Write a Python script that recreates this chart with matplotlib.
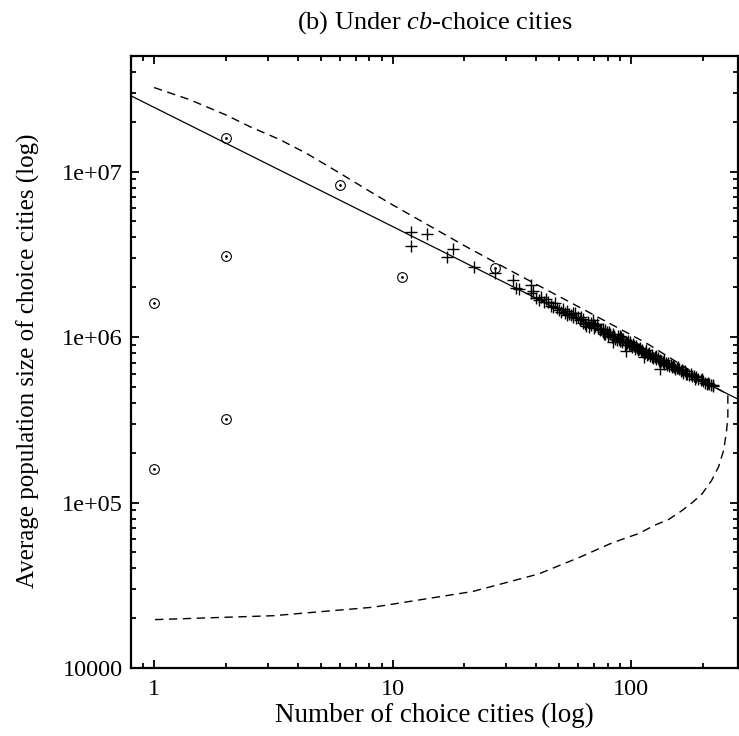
import matplotlib
matplotlib.use("Agg")
import matplotlib.pyplot as plt
from matplotlib.ticker import LogLocator, NullFormatter

plt.rcParams['font.family'] = ['Liberation Serif', 'DejaVu Serif']
plt.rcParams['mathtext.fontset'] = 'custom'
plt.rcParams['mathtext.rm'] = 'Liberation Serif'
plt.rcParams['mathtext.it'] = 'Liberation Serif:italic'

# cities with few choice cities (circles)
circle_x = [1, 1, 2, 2, 2, 6, 11, 27]
circle_y = [1.6e6, 1.6e5, 1.6e7, 3.1e6, 3.2e5, 8.3e6, 2.3e6, 2.6e6]

# remaining cities (crosses)
cross_x = [12, 12, 14, 17, 18, 22, 27, 32, 33, 34, 38, 38, 39, 40, 41, 44, 45, 46,
           47, 48, 50, 51, 53, 54, 55, 56, 57, 58, 59, 61, 62, 63, 64, 66, 67, 68,
           69, 70, 71, 72, 74, 75, 76, 77, 78, 79, 80, 82, 83, 84, 85, 86, 88, 89,
           90, 91, 92, 93, 94, 95, 96, 97, 98, 100, 101, 103, 104, 106, 107, 108,
           110, 111, 113, 115, 117, 118, 120, 122, 124, 126, 128, 130, 131, 133,
           134, 136, 138, 140, 143, 145, 148, 150, 153, 156, 159, 162, 165, 169,
           172, 176, 180, 184, 188, 192, 196, 200, 204, 208, 212, 216, 220,
           42, 43, 49, 52, 54, 57, 60, 63, 65, 68, 70, 73, 76, 78, 81, 84, 87,
           90, 92, 95, 99, 102, 105, 109, 112, 116, 119, 123, 127, 132, 137, 142,
           147, 152, 158, 164, 170, 178, 186, 198, 210, 222]
cross_y = [4.3e6, 3.55e6, 4.2e6, 3.05e6, 3.4e6, 2.65e6, 2.45e6, 2.2e6, 1.98e6,
           1.95e6, 2.05e6, 1.85e6, 1.9e6, 1.72e6, 1.68e6, 1.7e6, 1.62e6, 1.55e6,
           1.52e6, 1.6e6, 1.45e6, 1.42e6, 1.40e6, 1.44e6, 1.38e6, 1.36e6, 1.33e6,
           1.39e6, 1.30e6, 1.26e6, 1.33e6, 1.22e6, 1.20e6, 1.24e6, 1.15e6, 1.18e6,
           1.26e6, 1.13e6, 1.16e6, 1.20e6, 1.10e6, 1.12e6, 1.07e6, 1.05e6, 1.10e6,
           1.08e6, 1.02e6, 1.04e6, 1.0e6, 0.93e6, 1.01e6, 0.98e6, 1.02e6, 0.97e6,
           0.95e6, 1.0e6, 0.94e6, 0.97e6, 0.90e6, 0.82e6, 0.92e6, 0.95e6, 0.89e6,
           0.90e6, 0.87e6, 0.88e6, 0.85e6, 0.86e6, 0.83e6, 0.85e6, 0.82e6, 0.84e6,
           0.76e6, 0.80e6, 0.78e6, 0.79e6, 0.77e6, 0.78e6, 0.75e6, 0.76e6, 0.74e6,
           0.75e6, 0.72e6, 0.64e6, 0.72e6, 0.71e6, 0.69e6, 0.70e6, 0.70e6, 0.67e6,
           0.66e6, 0.67e6, 0.64e6, 0.65e6, 0.64e6, 0.62e6, 0.61e6, 0.62e6, 0.60e6,
           0.59e6, 0.58e6, 0.58e6, 0.57e6, 0.56e6, 0.55e6, 0.54e6, 0.53e6, 0.52e6,
           0.52e6, 0.51e6, 0.505e6,
           1.75e6, 1.62e6, 1.50e6, 1.47e6, 1.35e6, 1.40e6, 1.33e6, 1.28e6,
           1.17e6, 1.22e6, 1.19e6, 1.14e6, 1.12e6, 1.04e6, 1.08e6, 1.04e6,
           0.96e6, 1.01e6, 0.98e6, 0.93e6, 0.94e6, 0.91e6, 0.88e6, 0.86e6,
           0.81e6, 0.83e6, 0.80e6, 0.76e6, 0.77e6, 0.73e6, 0.73e6, 0.68e6,
           0.68e6, 0.66e6, 0.66e6, 0.63e6, 0.60e6, 0.60e6, 0.56e6, 0.56e6,
           0.53e6, 0.51e6]

# fitted power law (end points)
fit_x = [0.8, 280]
fit_y = [2.87e7, 4.23e5]

# confidence band, upper branch then lower branch
band_x = [1, 1.41, 2, 2.52, 3.37, 4.35, 6, 8.27, 10, 20, 30, 60, 116, 180, 230,
          255, 255, 252, 245, 233, 218, 199, 181, 163, 144, 126, 108, 92, 81,
          61, 41, 21.7, 8.3, 3.16, 1]
band_y = [3.22e7, 2.72e7, 2.2e7, 1.87e7, 1.56e7, 1.29e7, 9.8e6, 7.4e6, 6.3e6,
          3.57e6, 2.6e6, 1.53e6, 9.2e5, 6.2e5, 4.9e5, 4.5e5,
          3.3e5, 2.73e5, 2.07e5, 1.64e5, 1.36e5, 1.13e5, 1.0e5, 8.9e4, 7.9e4,
          7.3e4, 6.5e4, 6.0e4, 5.6e4, 4.67e4, 3.7e4, 2.9e4, 2.33e4, 2.07e4,
          1.96e4]

fig = plt.figure(figsize=(7.39, 7.36), dpi=100)
ax = fig.add_axes([0.1773, 0.0924, 0.8207, 0.8316])

ax.plot(band_x, band_y, color='black', lw=1.0, dashes=(6, 4))
ax.plot(fit_x, fit_y, color='black', lw=0.9)
ax.plot(cross_x, cross_y, linestyle='none', marker='+', ms=8, mew=1.0,
        color='black')
ax.plot(circle_x, circle_y, linestyle='none', marker='o', ms=7, mew=0.8,
        mfc='none', mec='black')
ax.plot(circle_x, circle_y, linestyle='none', marker='.', ms=2, color='black')

ax.set_xscale('log')
ax.set_yscale('log')
ax.set_xlim(0.8, 280)
ax.set_ylim(1e4, 5e7)

ax.set_xticks([1, 10, 100])
ax.set_xticklabels(['1', '10', '100'])
ax.set_yticks([1e4, 1e5, 1e6, 1e7])
ax.set_yticklabels(['10000', '1e+05', '1e+06', '1e+07'])
ax.xaxis.set_minor_locator(LogLocator(base=10, subs=range(2, 10)))
ax.yaxis.set_minor_locator(LogLocator(base=10, subs=range(2, 10)))
ax.xaxis.set_minor_formatter(NullFormatter())
ax.yaxis.set_minor_formatter(NullFormatter())

ax.tick_params(which='both', direction='in', top=True, right=True,
               width=1.3, labelsize=17.5)
ax.tick_params(which='major', length=6)
ax.tick_params(which='minor', length=3.5)
ax.tick_params(axis='x', pad=8)
ax.tick_params(axis='y', pad=6)
for sp in ax.spines.values():
    sp.set_linewidth(1.6)

fig.text(0.588, 0.970, '(b) Under $cb$-choice cities', ha='center',
         va='center', fontsize=19)
fig.text(0.588, 0.0285, 'Number of choice cities (log)', ha='center',
         va='center', fontsize=19.5)
fig.text(0.038, 0.5095, 'Average population size of choice cities (log)',
         ha='center', va='center', rotation=90, fontsize=18)

fig.savefig('out.png', dpi=100)
